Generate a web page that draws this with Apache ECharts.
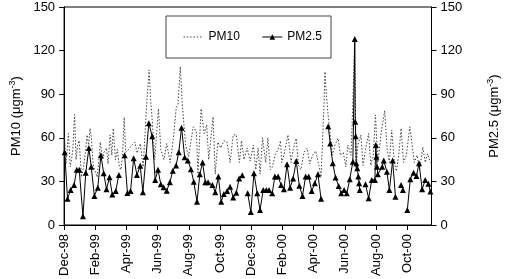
<!DOCTYPE html>
<html>
<head>
<meta charset="utf-8">
<script src="https://cdn.jsdelivr.net/npm/echarts@6/dist/echarts.min.js"></script>
<style>
  html, body { margin: 0; padding: 0; background: #fff; }
  #chart { width: 509px; height: 279px; }
</style>
</head>
<body>
<div id="chart"></div>
<script>
// x values are months counted from 1 Dec 1998
var tickLabels = ['Dec-98', 'Feb-99', 'Apr-99', 'Jun-99', 'Aug-99', 'Oct-99',
                  'Dec-99', 'Feb-00', 'Apr-00', 'Jun-00', 'Aug-00', 'Oct-00'];

// PM2.5 samples (null = break in the line)
var pm25Month = [0.04, 0.22, 0.42, 0.64, 0.81, 0.97, 1.21, 1.39, 1.59, 1.74, 1.94, 2.16, 2.36, 2.54, 2.72, 2.91, 3.09, 3.31, 3.51,
    3.70,
    3.88, 4.06, 4.26, 4.46, 4.67, 4.88, 5.05, 5.25, 5.43, 5.65, 5.84, 6.02, 6.20, 6.38, 6.58, 6.78, 6.97, 7.18, 7.35, 7.53,
    7.73, 7.93, 8.13, 8.31, 8.52, 8.70, 8.88, 9.05, 9.23, 9.51, 9.69, 9.89, 10.07, 10.24, 10.45, 10.64, 10.84, 11.04, 11.22, 11.42,
    11.60,
    11.77, 11.97, 12.17, 12.38, 12.56, 12.76, 12.96, 13.14, 13.34, 13.51, 13.72, 13.91, 14.09, 14.29, 14.49, 14.68, 14.88,
    15.08, 15.28, 15.48, 15.68, 15.87, 16.07, 16.27, 16.47,
    16.70,
    16.93, 17.06, 17.22, 17.40, 17.60, 17.76, 17.95, 18.12, 18.31, 18.51, 18.63, 18.66, 18.69, 18.73, 18.79, 18.86, 18.91, 18.95,
    19.15,
    19.32, 19.52, 19.72, 19.92, 19.98, 20.02, 20.06, 20.11, 20.39, 20.49, 20.69, 20.85, 21.06, 21.24,
    21.42,
    21.60, 21.72,
    21.86,
    22.00, 22.19, 22.40, 22.59, 22.75, 22.95, 23.15, 23.35, 23.48];
var pm25 = [50, 18, 24, 27.5, 38, 38, 6, 36, 53, 40, 20, 25.7, 48, 35.6, 24.6, 32.8, 21, 23.4, 34.4,
    null,
    48, 22, 23.4, 46, 34.4, 40.8, 22.5, 47, 70, 61, 31, 38, 28, 26, 23.6, 29.4, 37.4, 41, 50, 67,
    46.6, 44.3, 38.3, 29.8, 16, 35, 43, 29.4, 29.4, 27.5, 22.5, 33.3, 16, 21.3, 23.4, 26.4, 19, 22.2, 32, 34.2,
    null,
    21.8, 9, 35.6, 21.8, 10.3, 24, 24, 24, 21.8, 33.3, 33.3, 27.5, 24.6, 41.8, 25.7, 32, 44,
    27, 20, 33.3, 33.3, 23.4, 28.7, 35, 18,
    null,
    68, 56, 42.5, 32.6, 26.8, 21.8, 24, 21.8, 31.4, 43.6, 128, 71, 61, 42.5, 39, 33.3, 28.7, 24,
    null,
    28, 18.4, 31, 31, 55, 47, 40, 35, 40, 44.3, 36.7, 24, 44.3, 19.5,
    null,
    27.5, 24,
    null,
    10.3, 31.4, 36, 33.7, 42.5, 24.6, 31, 28.3, 23];

// PM10 samples
var pm10Month = [0.03, 0.12, 0.28, 0.39, 0.48, 0.56, 0.67, 0.77, 0.86, 0.97, 1.11, 1.25, 1.37, 1.47, 1.58, 1.66, 1.75, 1.86, 1.96,
    2.12, 2.23, 2.32, 2.46, 2.56, 2.72, 2.82, 2.95, 3.06, 3.15, 3.29, 3.42, 3.54, 3.64, 3.75, 3.85, 3.95,
    4.14, 4.34, 4.54, 4.68, 4.88, 5.07, 5.31, 5.45, 5.55, 5.65, 5.81, 6.05, 6.20, 6.40, 6.58, 6.80, 7.00, 7.19, 7.30, 7.45,
    7.59, 7.79, 7.98, 8.28, 8.48, 8.58, 8.78, 8.98, 9.14, 9.27, 9.55, 9.69, 9.85, 10.05, 10.24, 10.45, 10.64, 10.84, 11.04,
    11.24, 11.37, 11.53, 11.73, 11.93, 12.13, 12.29, 12.43, 12.56, 12.72, 12.92, 13.06, 13.22, 13.36, 13.51, 13.72, 13.87,
    13.95, 14.09, 14.35, 14.55, 14.68, 14.88, 15.02, 15.18, 15.38, 15.58, 15.74, 15.93, 16.13, 16.33, 16.47, 16.66, 16.72,
    16.81, 16.93, 17.06, 17.20, 17.36, 17.56, 17.72, 17.90, 18.06, 18.19, 18.39, 18.49, 18.63, 18.71, 18.83, 19.02, 19.16,
    19.32, 19.52, 19.66, 19.82, 19.96, 20.11, 20.32, 20.55, 20.71, 20.85, 21.00, 21.17, 21.30, 21.45, 21.60, 21.76, 21.94,
    22.16, 22.29, 22.45, 22.63, 22.79, 22.99, 23.15, 23.29, 23.48];
var pm10 = [60, 42, 63, 40, 45, 52, 76, 45, 55, 58, 33, 40, 50, 62, 55, 66.5, 60, 42, 38,
    33, 45, 57, 45, 50, 53, 42, 62, 48, 66.5, 45, 52, 40, 38, 48, 74, 50,
    52, 55, 57, 49.5, 56, 40, 86, 106.7, 86, 72, 45, 80, 52, 45, 56, 43, 59, 81, 83, 109,
    81, 55, 47, 67.6, 64, 35, 80, 63, 69, 45, 74.5, 35, 57, 53, 58, 57, 43, 62, 62,
    43, 58, 45, 53, 44, 55, 38, 53, 35, 60, 43, 60, 38, 40, 48, 52, 58,
    43, 48, 62, 43, 52, 59.6, 41, 38, 50, 52.8, 42, 48, 51, 41, 33, 83, 105.5,
    90, 75, 62, 48, 55, 59.6, 48, 50, 40, 55, 48, 78, 128, 39, 55, 62, 41,
    52, 63, 41, 48, 75.7, 43, 63, 78.7, 52, 43, 65.4, 43, 37, 48, 66.5, 43, 48,
    67.6, 57, 43, 48, 38, 53.6, 43, 49, 43];

function pairs(xs, ys) {
    var out = [];
    for (var i = 0; i < xs.length; i++) {
        out.push([xs[i], ys[i] === null ? '-' : ys[i]]);
    }
    return out;
}

var font = 'Liberation Sans, Arial, sans-serif';
var dots = [1.5, 1.8];
var myChart = echarts.init(document.getElementById('chart'), null, {renderer: 'canvas'});

var yAxisBase = {
    type: 'value',
    min: 0,
    max: 150,
    interval: 30,
    nameLocation: 'middle',
    nameRotate: 90,
    splitLine: {show: false},
    axisLine: {show: true, lineStyle: {color: '#000', width: 1}},
    axisTick: {show: true, length: 5, lineStyle: {color: '#000'}},
    axisLabel: {color: '#000', fontSize: 13, fontFamily: font, margin: 9},
    nameTextStyle: {
        color: '#000', fontSize: 13, fontFamily: font,
        rich: {
            sup: {fontSize: 9, fontFamily: font, color: '#000', padding: [0, 0, 7, 0]}
        }
    }
};

var option = {
    animation: false,
    backgroundColor: '#fff',
    grid: {
        left: 50, right: 63, top: 7, bottom: 54,
        show: true, borderColor: '#000', borderWidth: 1
    },
    legend: {
        left: 166, top: 16,
        padding: [15, 9, 15, 17],
        backgroundColor: '#fff',
        borderColor: '#444', borderWidth: 1,
        itemWidth: 20, itemHeight: 7, itemGap: 22,
        textStyle: {color: '#000', fontSize: 12, fontFamily: font},
        data: [
            {name: 'PM10', itemStyle: {opacity: 0}, lineStyle: {width: 1, type: dots, color: '#444'}},
            {name: 'PM2.5', lineStyle: {width: 1}}
        ]
    },
    xAxis: {
        type: 'value',
        min: 0,
        max: 23.55,
        interval: 2,
        splitLine: {show: false},
        axisLine: {lineStyle: {color: '#000'}},
        axisTick: {length: 5, lineStyle: {color: '#000'}},
        axisLabel: {
            rotate: 90, color: '#000', fontSize: 13, fontFamily: font, margin: 9,
            showMaxLabel: false,
            formatter: function (v) {
                if (Math.abs(v % 2) > 1e-6) return '';
                return tickLabels[Math.round(v / 2)] || '';
            }
        }
    },
    yAxis: [
        Object.assign({}, yAxisBase, {position: 'left', name: 'PM10 (μgm{sup|-3})', nameGap: 33}),
        Object.assign({}, yAxisBase, {position: 'right', name: 'PM2.5 (μgm{sup|-3})', nameGap: 55})
    ],
    series: [
        {
            name: 'PM10',
            type: 'line',
            yAxisIndex: 0,
            symbol: 'none',
            data: pairs(pm10Month, pm10),
            lineStyle: {color: '#444', width: 1, type: dots},
            itemStyle: {color: '#444'},
            z: 2
        },
        {
            name: 'PM2.5',
            type: 'line',
            yAxisIndex: 1,
            symbol: 'triangle',
            symbolSize: 6,
            connectNulls: false,
            data: pairs(pm25Month, pm25),
            lineStyle: {color: '#000', width: 1},
            itemStyle: {color: '#000'},
            z: 3
        }
    ]
};
myChart.setOption(option);
</script>
</body>
</html>
